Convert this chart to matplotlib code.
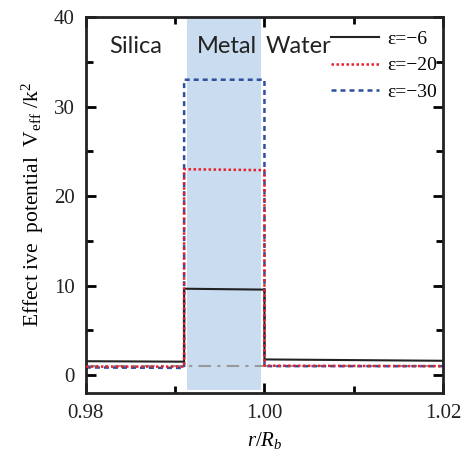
import numpy as np
import matplotlib
matplotlib.use('Agg')
import matplotlib.pyplot as plt
import matplotlib.ticker as ticker

plt.rcParams['font.family'] = 'Liberation Serif'
plt.rcParams['mathtext.fontset'] = 'custom'
plt.rcParams['mathtext.rm'] = 'Liberation Serif'
plt.rcParams['mathtext.it'] = 'Liberation Serif:italic'

# ---- data ----
r_pts = [0.98, 0.991, 0.991, 1.0, 1.0, 1.02]
v_eps6 = [1.55, 1.5, 9.65, 9.55, 1.75, 1.6]
v_eps20 = [0.95, 0.95, 23.0, 22.9, 1.05, 1.0]
v_eps30 = [0.85, 0.8, 33.0, 33.0, 1.0, 1.0]
metal_span = (0.9913, 0.9996)
ref_level = 1.0
regions = ['Silica', 'Metal', 'Water']
region_x = [0.9856, 0.9958, 1.0038]

fig = plt.figure(figsize=(4.67, 4.61), dpi=100)
ax = fig.add_axes([0.184, 0.1475, 0.7646, 0.8155])

ax.axvspan(metal_span[0], metal_span[1], ymin=0.008, ymax=0.995,
           color='#c9dcf0', lw=0, zorder=0)
ax.axhline(ref_level, color='#999999', ls=(0, (6, 3, 1.5, 3)), lw=1.5, zorder=1)

ax.plot(r_pts, v_eps6, color='#222222', lw=1.5, label='ε=−6', zorder=3)
ax.plot(r_pts, v_eps20, color='#e8202a', lw=1.8, ls=(0, (1, 1)), label='ε=−20', zorder=4)
ax.plot(r_pts, v_eps30, color='#2f4fa0', lw=1.8, ls=(0, (2, 1.6)), label='ε=−30', zorder=2)

for name, xr in zip(regions, region_x):
    ax.text(xr, 36.7, name, family='Lato', fontsize=17, ha='center', va='center',
            color='#222222')

ax.set_xlim(0.98, 1.02)
ax.set_ylim(-2, 40)
ax.xaxis.set_major_locator(ticker.MultipleLocator(0.02))
ax.xaxis.set_minor_locator(ticker.MultipleLocator(0.01))
ax.xaxis.set_major_formatter(ticker.FormatStrFormatter('%.2f'))
ax.yaxis.set_major_locator(ticker.MultipleLocator(10))
ax.yaxis.set_minor_locator(ticker.MultipleLocator(5))
ax.tick_params(which='both', direction='in', top=True, right=True, width=2,
               labelsize=15, pad=8, labelcolor='#222222')
ax.tick_params(which='major', length=7)
ax.tick_params(which='minor', length=5)
for lab in ax.get_xticklabels() + ax.get_yticklabels():
    lab.set_fontfamily('Liberation Serif')
for s in ax.spines.values():
    s.set_linewidth(2)
    s.set_color('#222222')

ax.set_xlabel('$r/R_b$', fontsize=15, labelpad=5)
ax.set_ylabel('Effect ive  potential  V$_{\\rm eff}$ /k$^2$', fontsize=15.5, labelpad=6)

ax.legend(loc='upper right', frameon=False, fontsize=14, handlelength=2.5,
          handletextpad=0.4, labelspacing=0.45, borderaxespad=0.0,
          bbox_to_anchor=(1.005, 0.985))

fig.savefig('out.png', dpi=100)
